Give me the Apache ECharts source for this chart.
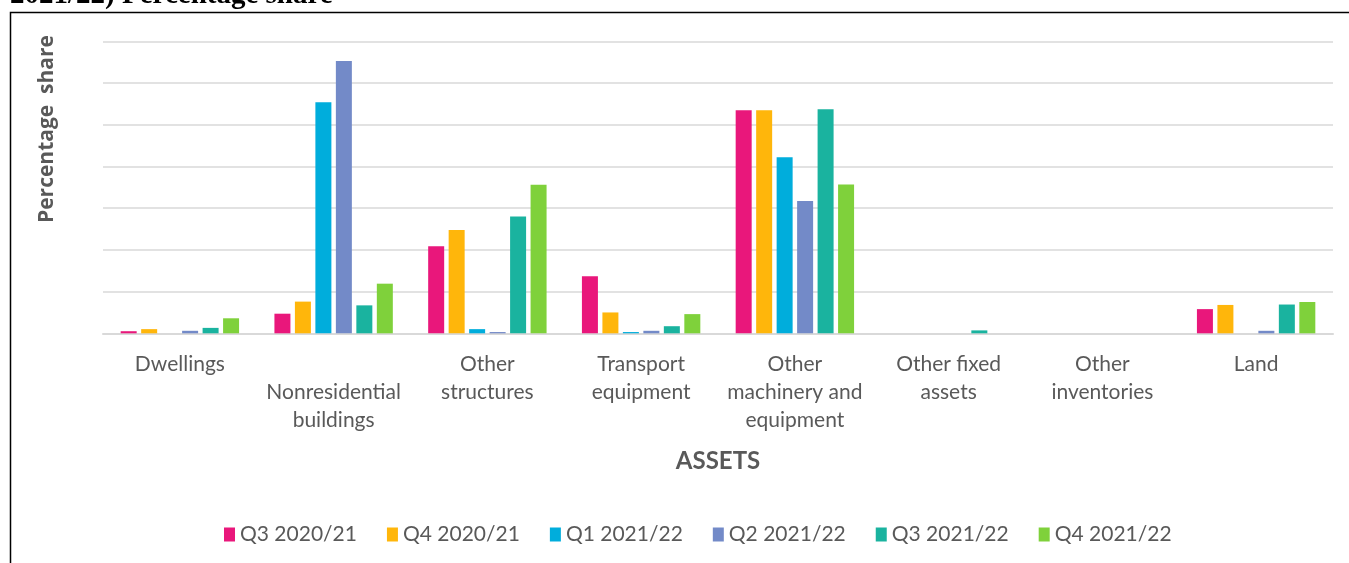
<!DOCTYPE html>
<html>
<head>
<meta charset="utf-8">
<script src="https://cdn.jsdelivr.net/npm/echarts@6/dist/echarts.min.js"></script>
<style>
  html, body { margin: 0; padding: 0; background: #fff; }
  #chart { width: 1349px; height: 563px; }
</style>
</head>
<body>
<div id="chart"></div>
<script>
// asset categories (x axis)
const categories = [
    'Dwellings',
    '\nNonresidential\nbuildings',
    'Other\nstructures',
    'Transport\nequipment',
    'Other\nmachinery and\nequipment',
    'Other fixed\nassets',
    'Other\ninventories',
    'Land'
];

// percentage share per quarter
const q3_2021 = [0.5, 4.7, 20.9, 13.7, 53.5, 0, 0, 5.8];
const q4_2021 = [1.0, 7.6, 24.8, 5.0, 53.5, 0, 0, 6.8];
const q1_2122 = [0, 55.4, 1.0, 0.3, 42.2, 0, 0, 0];
const q2_2122 = [0.6, 65.3, 0.3, 0.6, 31.7, 0, 0, 0.6];
const q3_2122 = [1.3, 6.7, 28.0, 1.7, 53.7, 0.7, 0, 6.9];
const q4_2122 = [3.6, 11.9, 35.6, 4.6, 35.7, 0, 0, 7.5];

const seriesNames = ['Q3 2020/21', 'Q4 2020/21', 'Q1 2021/22', 'Q2 2021/22', 'Q3 2021/22', 'Q4 2021/22'];
const seriesData = [q3_2021, q4_2021, q1_2122, q2_2122, q3_2122, q4_2122];
const colors = ['#E9177B', '#FFB60B', '#00ADDC', '#738AC8', '#1AB39F', '#7FD13B'];

const textGrey = '#595959';
const font = 'Lato, "Open Sans", sans-serif';

// one bar series per quarter
let series = [];
seriesNames.forEach((name, i) => {
    series.push({
        name: name,
        type: 'bar',
        barWidth: 16,
        barGap: '28%',
        data: seriesData[i],
        itemStyle: { color: colors[i] }
    });
});

const chartDom = document.getElementById('chart');
const myChart = echarts.init(chartDom);
let option;
option = {
    animation: false,
    color: colors,
    grid: {
        left: 103,
        right: 16,
        top: 41.4,
        bottom: 229.7
    },
    legend: {
        left: 219,
        top: 519,
        itemWidth: 11,
        itemHeight: 14,
        itemGap: 30,
        icon: 'rect',
        textStyle: {
            color: textGrey,
            fontFamily: font,
            fontSize: 21
        }
    },
    xAxis: {
        type: 'category',
        data: categories,
        name: 'ASSETS',
        nameLocation: 'middle',
        nameGap: 116,
        nameTextStyle: {
            color: textGrey,
            fontFamily: font,
            fontSize: 24,
            fontWeight: 'bold'
        },
        axisLine: { lineStyle: { color: '#d9d9d9', width: 2 } },
        axisTick: { show: false },
        axisLabel: {
            interval: 0,
            margin: 17,
            color: textGrey,
            fontFamily: font,
            fontSize: 21,
            lineHeight: 28
        }
    },
    yAxis: {
        type: 'value',
        min: 0,
        max: 70,
        interval: 10,
        axisLabel: { show: false },
        axisLine: { show: false },
        axisTick: { show: false },
        splitLine: { lineStyle: { color: '#d9d9d9', width: 1.5 } }
    },
    graphic: [
        {
            // frame around the chart area
            type: 'rect',
            shape: { x: 10.5, y: 12.5, width: 1400, height: 600 },
            style: { fill: 'none', stroke: '#000', lineWidth: 1.5 },
            silent: true
        },
        {
            // cut-off caption above the frame
            type: 'text',
            x: 10,
            y: 10,
            style: {
                text: '2021/22) Percentage share',
                font: 'bold 29px "Liberation Serif", serif',
                fill: '#000',
                textVerticalAlign: 'bottom'
            },
            silent: true
        },
        {
            // y axis title
            type: 'text',
            x: 47,
            y: 129,
            rotation: Math.PI / 2,
            style: {
                text: 'Percentage  share',
                font: 'bold 21px "Open Sans", sans-serif',
                fill: textGrey,
                textAlign: 'center',
                textVerticalAlign: 'middle'
            },
            silent: true
        }
    ],
    series
};
option && myChart.setOption(option);
</script>
</body>
</html>
